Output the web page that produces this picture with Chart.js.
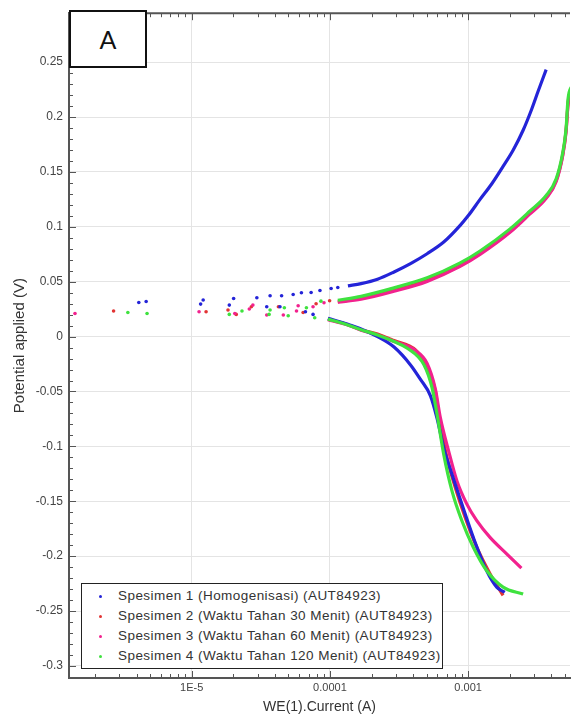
<!DOCTYPE html>
<html>
<head>
<meta charset="utf-8">
<script src="https://cdn.jsdelivr.net/npm/chart.js@4.4.1/dist/chart.umd.min.js"></script>
<style>
  body { margin: 0; background: #fff; }
  #wrap { position: relative; width: 574px; height: 719px; }
  #tag {
    position: absolute; left: 69px; top: 10px; width: 78px; height: 58px;
    box-sizing: border-box; border: 2px solid #111; background: #fff;
    font: 25px Lato, "Liberation Sans", sans-serif; color: #111;
    display: flex; align-items: center; justify-content: center;
  }
  #legend {
    position: absolute; left: 81px; top: 583px; width: 362px; height: 86px;
    box-sizing: border-box; border: 1px solid #222; background: #fff;
    padding-top: 2px; font: 13.5px "Liberation Sans", Arial, sans-serif;
    color: #333; letter-spacing: 0.45px;
  }
  #legend div { position: relative; height: 20px; line-height: 20px; padding-left: 36px; white-space: nowrap; }
  #legend span { position: absolute; left: 17px; top: 9px; width: 3px; height: 3px; border-radius: 50%; }
</style>
</head>
<body>
<div id="wrap">
  <canvas id="tafel" width="574" height="719"></canvas>
  <div id="tag">A</div>
  <div id="legend"></div>
</div>
<script>
// series names
const specimenLabels = [
  'Spesimen 1 (Homogenisasi) (AUT84923)',
  'Spesimen 2 (Waktu Tahan 30 Menit) (AUT84923)',
  'Spesimen 3 (Waktu Tahan 60 Menit) (AUT84923)',
  'Spesimen 4 (Waktu Tahan 120 Menit) (AUT84923)'
];

// axis ticks
const xTicks = [1e-5, 1e-4, 1e-3];
const xTickLabels = ['1E-5', '0.0001', '0.001'];
const yTicks = [-0.3, -0.25, -0.2, -0.15, -0.1, -0.05, 0, 0.05, 0.1, 0.15, 0.2, 0.25];
const yTickLabels = ['-0.3', '-0.25', '-0.2', '-0.15', '-0.1', '-0.05', '0', '0.05', '0.1', '0.15', '0.2', '0.25'];

// [current (A), potential (V)]
// Spesimen 1
const spec1Dots = [
  [4.14e-6, 0.0311], [4.68e-6, 0.0320], [1.16e-5, 0.0296], [1.21e-5, 0.0333],
  [1.87e-5, 0.0287], [2.01e-5, 0.0347], [2.96e-5, 0.0354], [3.49e-5, 0.0272],
  [3.69e-5, 0.0372], [4.35e-5, 0.0272], [4.47e-5, 0.0372], [5.42e-5, 0.0383],
  [6.22e-5, 0.0399], [6.65e-5, 0.0227], [7.31e-5, 0.0402], [7.55e-5, 0.0202],
  [8.47e-5, 0.0420], [1.02e-4, 0.0438], [1.14e-4, 0.0447]
];
const spec1Anodic = [
  [1.35e-4, 0.0462], [1.68e-4, 0.0483], [2.21e-4, 0.0523], [2.91e-4, 0.0589],
  [3.83e-4, 0.0665], [5.05e-4, 0.0755], [6.66e-4, 0.0861], [8.76e-4, 0.1013],
  [1.0e-3, 0.110], [1.22e-3, 0.125], [1.48e-3, 0.139], [1.79e-3, 0.155],
  [2.12e-3, 0.170], [2.50e-3, 0.188], [2.86e-3, 0.206], [3.20e-3, 0.223],
  [3.67e-3, 0.2432]
];
const spec1Cathodic = [
  [9.67e-5, 0.0166], [1.35e-4, 0.0112], [1.68e-4, 0.0070], [2.21e-4, 0.0000],
  [2.91e-4, -0.0095], [3.83e-4, -0.0258], [4.52e-4, -0.0390], [5.34e-4, -0.0540],
  [5.96e-4, -0.0745], [6.66e-4, -0.1013], [7.64e-4, -0.1254], [9.01e-4, -0.1526],
  [1.09e-3, -0.1829], [1.36e-3, -0.2131], [1.61e-3, -0.2282], [1.84e-3, -0.2330]
];

// Spesimen 2
const spec2Dots = [
  [2.72e-6, 0.0233], [1.27e-5, 0.0227], [1.83e-5, 0.0242], [2.10e-5, 0.0202],
  [2.70e-5, 0.0272], [4.24e-5, 0.0272], [6.40e-5, 0.0220], [7.94e-5, 0.0299],
  [9.95e-5, 0.0326]
];
const spec2Anodic = [
  [1.14e-4, 0.0317], [1.68e-4, 0.0349], [2.91e-4, 0.0422], [5.05e-4, 0.0512],
  [8.76e-4, 0.0648], [1.22e-3, 0.0757], [2.0e-3, 0.0957], [2.79e-3, 0.1124],
  [3.67e-3, 0.1269], [4.33e-3, 0.1419], [4.84e-3, 0.1659], [5.11e-3, 0.1872],
  [5.30e-3, 0.2140], [5.65e-3, 0.2270]
];
const spec2Cathodic = [
  [9.67e-5, 0.0159], [1.30e-4, 0.0115], [1.68e-4, 0.0063], [2.21e-4, 0.0023],
  [2.91e-4, -0.0036], [4.16e-4, -0.0121], [4.79e-4, -0.0236], [5.80e-4, -0.0499],
  [6.13e-4, -0.0710], [7.03e-4, -0.1103], [8.07e-4, -0.1375], [9.52e-4, -0.1647],
  [1.155e-3, -0.1919], [1.44e-3, -0.2160], [1.79e-3, -0.2357]
];

// Spesimen 3
const spec3Dots = [
  [1.43e-6, 0.0211], [1.13e-5, 0.0227], [2.05e-5, 0.0211], [2.61e-5, 0.0251],
  [2.77e-5, 0.0287], [3.49e-5, 0.0197], [4.60e-5, 0.0197], [5.73e-5, 0.0233],
  [5.89e-5, 0.0281], [7.55e-5, 0.0272], [9.06e-5, 0.0308]
];
const spec3Anodic = [
  [1.14e-4, 0.0313], [1.68e-4, 0.0340], [2.91e-4, 0.0413], [5.05e-4, 0.0503],
  [8.76e-4, 0.0639], [1.22e-3, 0.0748], [2.0e-3, 0.0947], [2.79e-3, 0.1115],
  [3.67e-3, 0.1260], [4.33e-3, 0.1410], [4.84e-3, 0.1650], [5.11e-3, 0.1863],
  [5.30e-3, 0.2130], [5.65e-3, 0.2260]
];
const spec3Cathodic = [
  [9.67e-5, 0.0154], [1.30e-4, 0.0112], [1.68e-4, 0.0059], [2.21e-4, 0.0014],
  [2.91e-4, -0.0045], [4.16e-4, -0.0127], [5.05e-4, -0.0245], [5.80e-4, -0.0480],
  [6.30e-4, -0.0741], [7.23e-4, -0.1043], [8.30e-4, -0.1315], [9.79e-4, -0.1526],
  [1.155e-3, -0.1677], [1.44e-3, -0.1829], [1.90e-3, -0.1979], [2.43e-3, -0.2110]
];

// Spesimen 4
const spec4Dots = [
  [3.45e-6, 0.0220], [4.75e-6, 0.0211], [1.87e-5, 0.0202], [2.31e-5, 0.0233],
  [3.63e-5, 0.0202], [3.69e-5, 0.0242], [4.68e-5, 0.0263], [4.99e-5, 0.0190],
  [6.76e-5, 0.0263], [7.76e-5, 0.0172], [8.61e-5, 0.0323]
];
const spec4Anodic = [
  [1.14e-4, 0.0331], [1.68e-4, 0.0367], [2.91e-4, 0.0444], [5.05e-4, 0.0535],
  [8.76e-4, 0.0671], [1.22e-3, 0.0780], [2.0e-3, 0.0979], [2.79e-3, 0.1142],
  [3.67e-3, 0.1285], [4.33e-3, 0.1435], [4.84e-3, 0.1677], [5.11e-3, 0.1889],
  [5.28e-3, 0.2160], [5.65e-3, 0.2290]
];
const spec4Cathodic = [
  [9.67e-5, 0.0159], [1.30e-4, 0.0112], [1.68e-4, 0.0063], [2.21e-4, 0.0015],
  [2.91e-4, -0.0045], [3.63e-4, -0.0106], [4.79e-4, -0.0257], [5.49e-4, -0.0469],
  [5.96e-4, -0.0710], [6.66e-4, -0.1073], [7.64e-4, -0.1405], [9.01e-4, -0.1677],
  [1.09e-3, -0.1919], [1.36e-3, -0.2131], [1.79e-3, -0.2282], [2.50e-3, -0.2345]
];

const colors = ['#2424d8', '#e23434', '#f2228e', '#3fe23f'];
const drawOrder = [1, 3, 2, 0]; // green on top, red at the bottom

const series = [
  [spec1Dots, spec1Anodic, spec1Cathodic],
  [spec2Dots, spec2Anodic, spec2Cathodic],
  [spec3Dots, spec3Anodic, spec3Cathodic],
  [spec4Dots, spec4Anodic, spec4Cathodic]
];

const pts = arr => arr.map(([x, y]) => ({ x, y }));

const datasets = [];
series.forEach(([dots, anodic, cathodic], i) => {
  datasets.push({
    label: specimenLabels[i], data: pts(dots), showLine: false,
    pointRadius: 1.8, pointBorderWidth: 0, pointBackgroundColor: colors[i],
    order: drawOrder[i]
  });
  [anodic, cathodic].forEach(branch => {
    datasets.push({
      label: specimenLabels[i], data: pts(branch), showLine: true,
      borderColor: colors[i], borderWidth: 3.2, pointRadius: 0,
      cubicInterpolationMode: 'monotone', order: drawOrder[i]
    });
  });
});

// inward major/minor ticks + top frame line
const axisTicks = {
  id: 'axisTicks',
  afterDraw(chart) {
    const { ctx, chartArea: a, scales: { x, y } } = chart;
    ctx.save();
    ctx.strokeStyle = '#555';
    ctx.lineWidth = 1;
    ctx.beginPath();
    for (let i = -31; i <= 29; i++) {
      const py = Math.round(y.getPixelForValue(i / 100)) + 0.5;
      const len = i % 5 === 0 ? 7 : 4;
      ctx.moveTo(a.left, py);
      ctx.lineTo(a.left + len, py);
    }
    for (let e = -6; e <= -3; e++) {
      for (let m = 1; m <= 9; m++) {
        const v = m * Math.pow(10, e);
        if (v < x.min || v > x.max) continue;
        const px = Math.round(x.getPixelForValue(v)) + 0.5;
        const len = m === 1 ? 7 : 4;
        ctx.moveTo(px, a.top);
        ctx.lineTo(px, a.top + len);
        ctx.moveTo(px, a.bottom);
        ctx.lineTo(px, a.bottom - len);
      }
    }
    ctx.stroke();
    ctx.lineWidth = 2;
    ctx.beginPath();
    ctx.moveTo(a.left, a.top);
    ctx.lineTo(a.right, a.top);
    ctx.stroke();
    ctx.restore();
  }
};

const font = '"Liberation Sans", Arial, sans-serif';

new Chart(document.getElementById('tafel'), {
  type: 'scatter',
  data: { datasets },
  options: {
    responsive: false,
    animation: false,
    layout: { padding: { top: 10, right: 0, bottom: 0, left: 0 } },
    plugins: { legend: { display: false }, tooltip: { enabled: false } },
    scales: {
      x: {
        type: 'logarithmic',
        min: 1.294e-6,
        max: 5.46e-3,
        afterBuildTicks: s => { s.ticks = xTicks.map(v => ({ value: v })); },
        afterFit: s => { s.height = 41; },
        grid: { color: '#e4e4e4', drawTicks: false },
        border: { display: true, color: '#555', width: 2 },
        ticks: {
          autoSkip: false, maxRotation: 0, padding: 3, color: '#444',
          font: { family: font, size: 11 },
          callback: (v, i) => xTickLabels[i]
        },
        title: {
          display: true, text: 'WE(1).Current (A)', color: '#333',
          font: { family: font, size: 14 }, padding: { top: 0, bottom: 3 }
        }
      },
      y: {
        type: 'linear',
        min: -0.311,
        max: 0.2946,
        afterBuildTicks: s => { s.ticks = yTicks.map(v => ({ value: v })); },
        afterFit: s => { s.width = 69; },
        grid: { color: '#e4e4e4', drawTicks: false },
        border: { display: true, color: '#555', width: 2 },
        ticks: {
          autoSkip: false, padding: 6, color: '#444',
          font: { family: font, size: 12 },
          callback: (v, i) => yTickLabels[i]
        },
        title: {
          display: true, text: 'Potential applied (V)', color: '#333',
          font: { family: font, size: 15 }, padding: { top: 11, bottom: 0 }
        }
      }
    }
  },
  plugins: [axisTicks]
});

// legend box inside the plot
const legend = document.getElementById('legend');
specimenLabels.forEach((label, i) => {
  const row = document.createElement('div');
  const dot = document.createElement('span');
  dot.style.background = colors[i];
  row.appendChild(dot);
  row.appendChild(document.createTextNode(label));
  legend.appendChild(row);
});
</script>
</body>
</html>
